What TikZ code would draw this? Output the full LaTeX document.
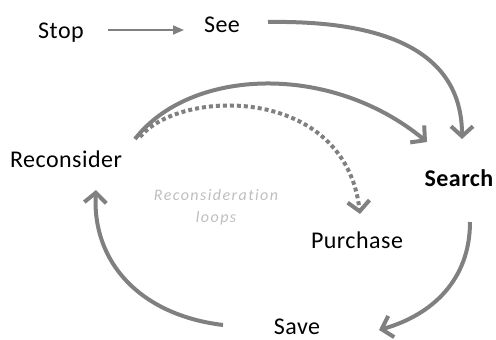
\documentclass[tikz,border=0pt]{standalone}
\usepackage{fontspec}
\setmainfont{Carlito}
\usetikzlibrary{arrows.meta}
\definecolor{loopgray}{RGB}{128,128,128}
\definecolor{notegray}{RGB}{190,190,190}
\tikzset{
  stage/.style={anchor=base, inner sep=0pt,
    font=\fontsize{24}{28}\selectfont\addfontfeatures{LetterSpace=2}},
  loop/.style={draw=loopgray, line width=4pt,
    -{Straight Barb[length=10pt,width=22pt]}},
  reloop/.style={loop, dash pattern=on 4pt off 3pt},
  lead/.style={draw=loopgray, line width=1.8pt,
    -{Triangle[length=11pt,width=9pt]}},
}
\begin{document}
\begin{tikzpicture}[x=1pt,y=-1pt]
\useasboundingbox (0,0) rectangle (496,340);
% stages
\node[stage] (stop) at (61,38) {Stop};
\node[stage] (see) at (222,32) {See};
\node[stage] (recon) at (66,167) {Reconsider};
\node[stage, font=\fontsize{24}{28}\selectfont\bfseries\addfontfeatures{LetterSpace=2}] (search) at (459,186) {Search};
\node[stage] (purchase) at (357,248) {Purchase};
\node[stage, text depth=0pt] (save) at (297,334) {Save};
\node[anchor=base, inner sep=0pt, text=notegray, align=center,
  font=\fontsize{16}{22}\selectfont\itshape\addfontfeatures{LetterSpace=9,Ligatures=NoCommon}]
  (note) at (216,222) {Reconsideration\\loops};
% connector ends
\coordinate (stopOut) at (108,30);
\coordinate (seeIn) at (184,30);
\coordinate (seeOut) at (268,22);
\coordinate (searchTop) at (462,139);
\coordinate (reconOut) at (135,139);
\coordinate (searchLeft) at (427,142);
\coordinate (reconDash) at (140,137);
\coordinate (purchaseTop) at (360,214);
\coordinate (searchOut) at (470,222);
\coordinate (saveIn) at (379,330);
\coordinate (saveOut) at (223,325);
\coordinate (reconIn) at (96,190);
% connectors
\draw[lead] (stopOut) -- (seeIn);
\draw[loop] (seeOut) .. controls (400,20) and (462,60) .. (searchTop);
\draw[loop] (reconOut) .. controls (190,68) and (330,62) .. (searchLeft);
\draw[reloop] (reconDash) .. controls (180,88) and (345,85) .. (purchaseTop);
\draw[loop] (searchOut) .. controls (470,280) and (432,315) .. (saveIn);
\draw[loop] (saveOut) .. controls (140,315) and (92,262) .. (reconIn);
\end{tikzpicture}
\end{document}
